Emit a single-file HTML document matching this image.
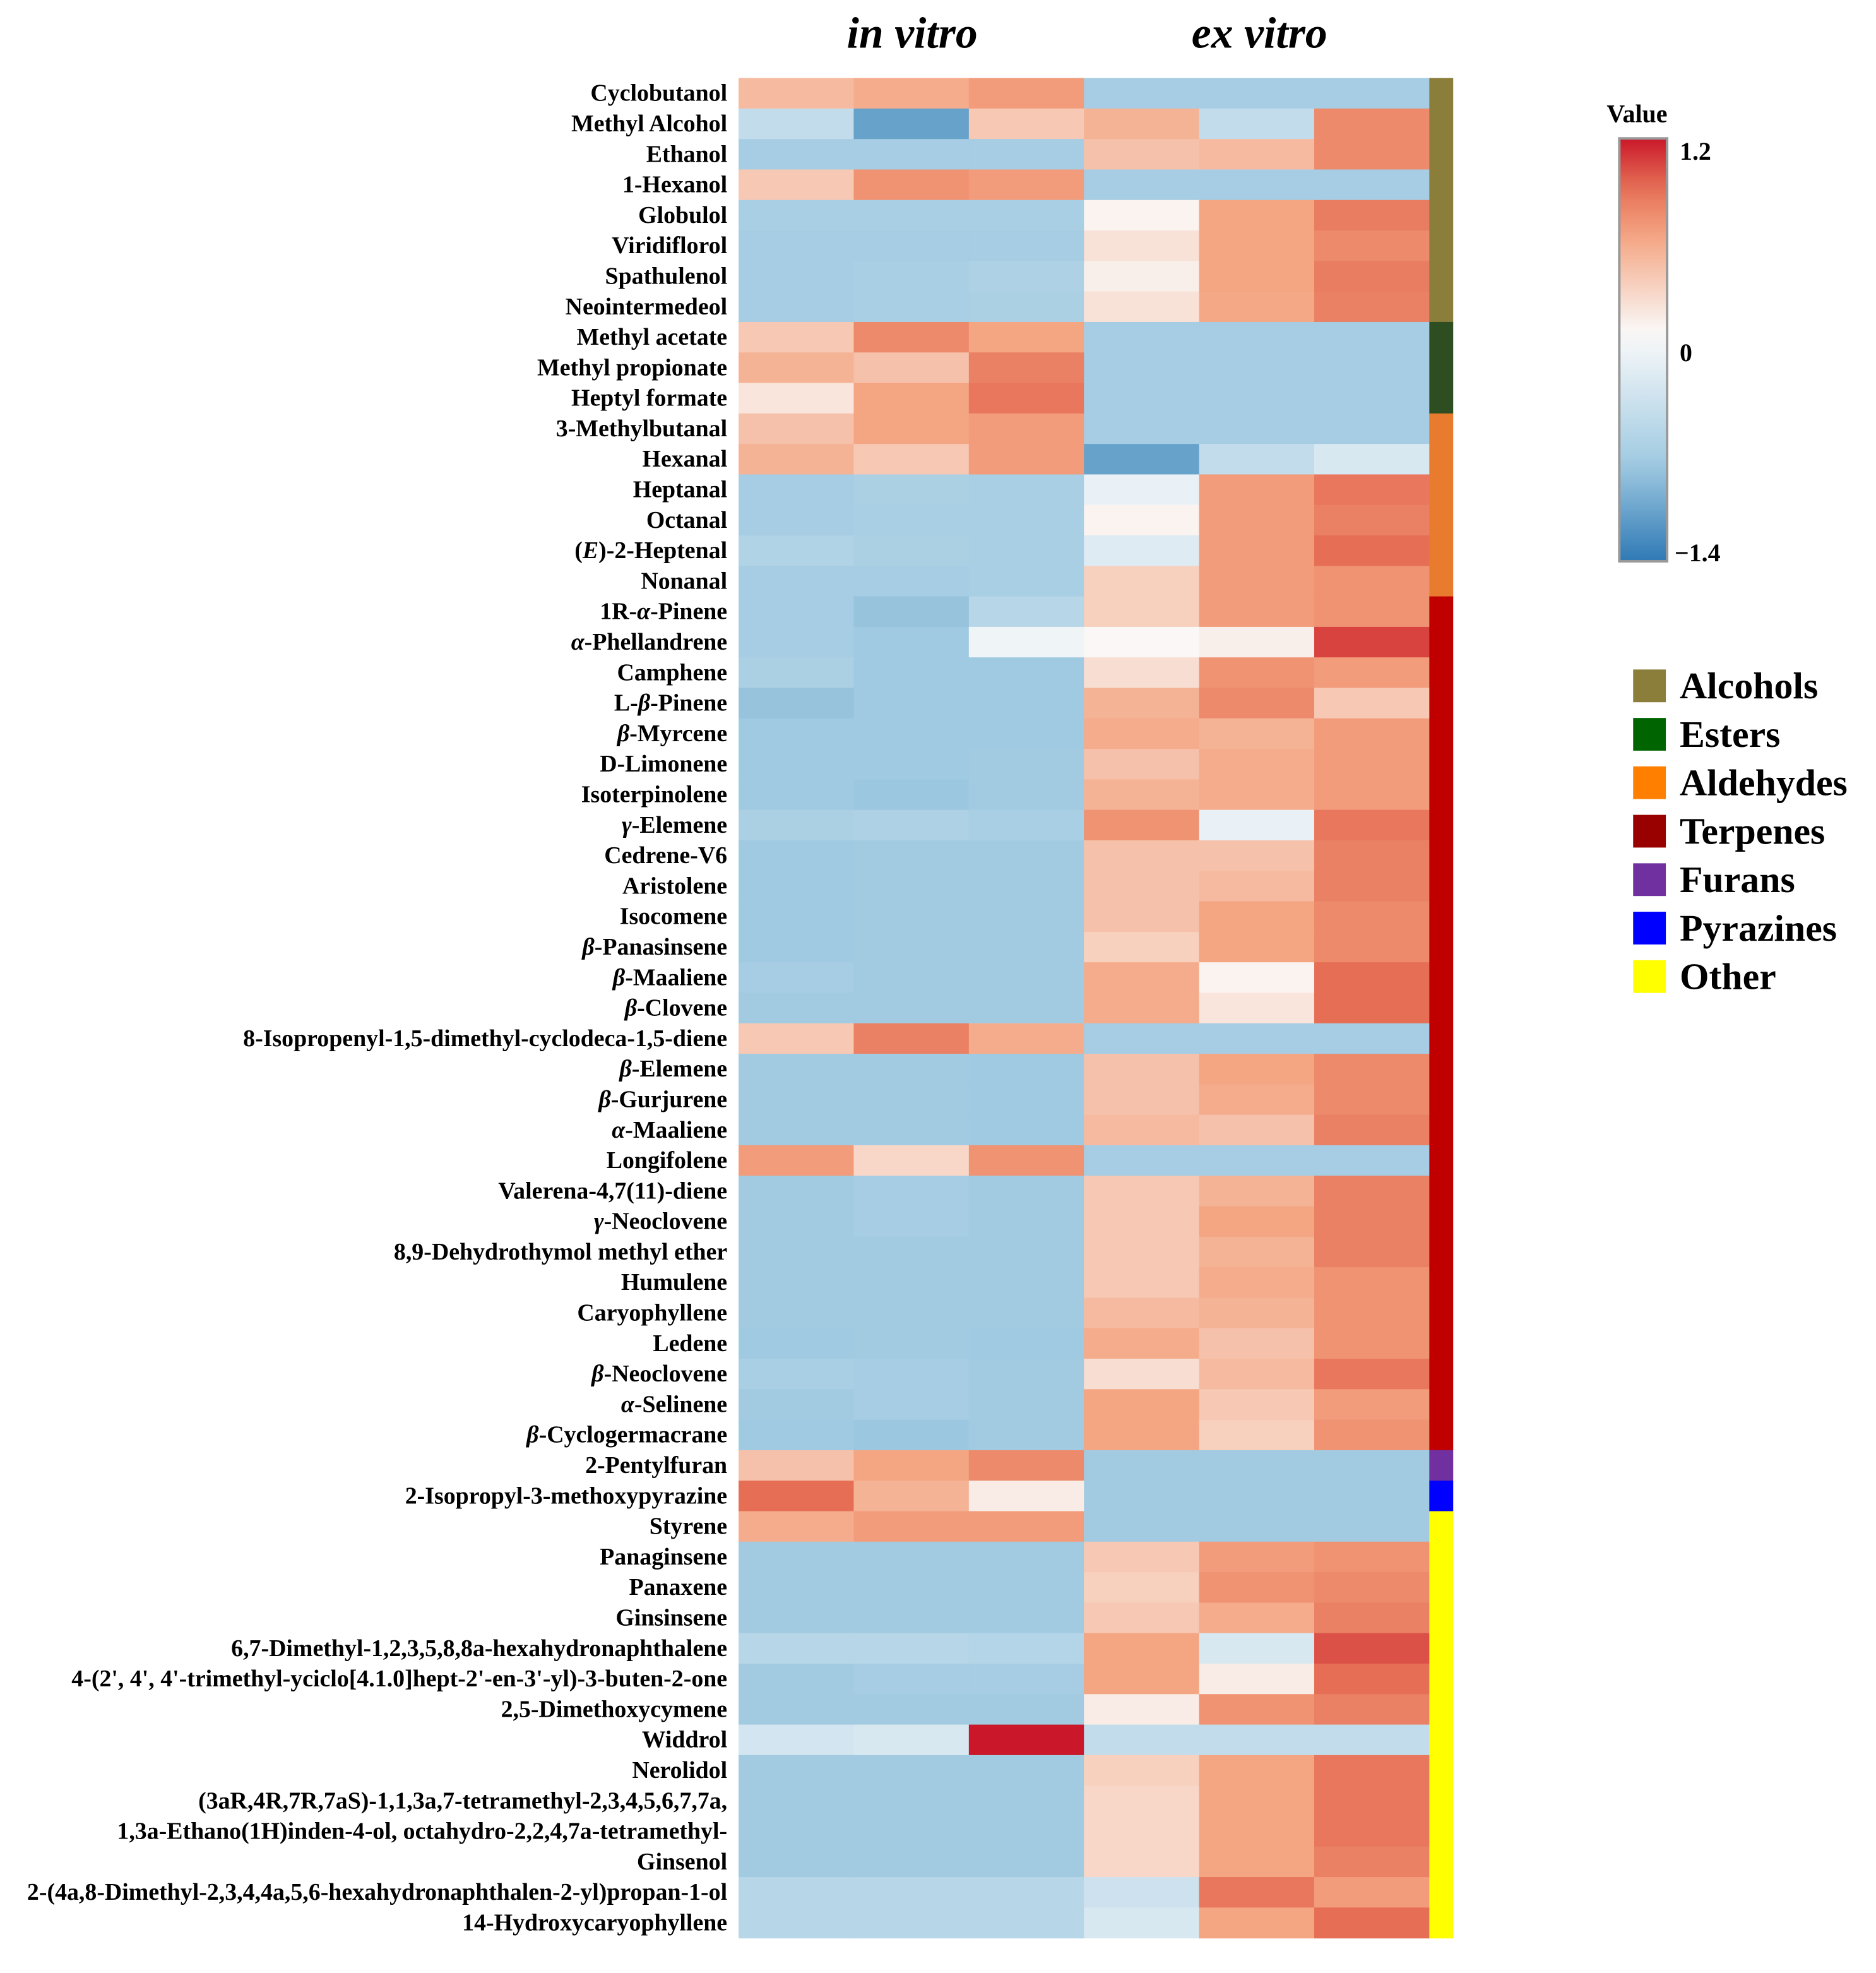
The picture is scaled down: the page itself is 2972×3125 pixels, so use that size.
<!DOCTYPE html>
<html><head><meta charset="utf-8"><style>html,body{margin:0;padding:0;background:#fff}svg{display:block}</style></head>
<body>
<svg id="chart" width="2972" height="3125" viewBox="0 0 1491 1567.8" xmlns="http://www.w3.org/2000/svg" font-family="'Liberation Serif', serif">
<text x="725" y="38" text-anchor="middle" font-size="35" font-weight="bold" font-style="italic">in vitro</text>
<text x="1001" y="38" text-anchor="middle" font-size="35" font-weight="bold" font-style="italic">ex vitro</text>
<g id="cells"></g>
<g id="labels"></g>
<g id="groups"></g>
<defs><linearGradient id="cbg" x1="0" y1="0" x2="0" y2="1"></linearGradient></defs>
<g>
<text x="1277" y="97" font-size="20" font-weight="bold">Value</text>
<rect x="1287" y="110" width="38" height="336" fill="url(#cbg)" stroke="#999" stroke-width="2"/>
<text x="1335" y="127" font-size="20" font-weight="bold">1.2</text>
<text x="1335" y="287" font-size="20" font-weight="bold">0</text>
<text x="1331" y="446" font-size="20" font-weight="bold">−1.4</text>
</g>
<g id="legend"></g>
</svg>
<script>
const labels=["Cyclobutanol","Methyl Alcohol","Ethanol","1-Hexanol","Globulol","Viridiflorol","Spathulenol","Neointermedeol","Methyl acetate","Methyl propionate","Heptyl formate","3-Methylbutanal","Hexanal","Heptanal","Octanal","(*E*)-2-Heptenal","Nonanal","1R-*α*-Pinene","*α*-Phellandrene","Camphene","L-*β*-Pinene","*β*-Myrcene","D-Limonene","Isoterpinolene","*γ*-Elemene","Cedrene-V6","Aristolene","Isocomene","*β*-Panasinsene","*β*-Maaliene","*β*-Clovene","8-Isopropenyl-1,5-dimethyl-cyclodeca-1,5-diene","*β*-Elemene","*β*-Gurjurene","*α*-Maaliene","Longifolene","Valerena-4,7(11)-diene","*γ*-Neoclovene","8,9-Dehydrothymol methyl ether","Humulene","Caryophyllene","Ledene","*β*-Neoclovene","*α*-Selinene","*β*-Cyclogermacrane","2-Pentylfuran","2-Isopropyl-3-methoxypyrazine","Styrene","Panaginsene","Panaxene","Ginsinsene","6,7-Dimethyl-1,2,3,5,8,8a-hexahydronaphthalene","4-(2', 4', 4'-trimethyl-yciclo[4.1.0]hept-2'-en-3'-yl)-3-buten-2-one","2,5-Dimethoxycymene","Widdrol","Nerolidol","(3aR,4R,7R,7aS)-1,1,3a,7-tetramethyl-2,3,4,5,6,7,7a,","1,3a-Ethano(1H)inden-4-ol, octahydro-2,2,4,7a-tetramethyl-","Ginsenol","2-(4a,8-Dimethyl-2,3,4,4a,5,6-hexahydronaphthalen-2-yl)propan-1-ol","14-Hydroxycaryophyllene"];
const values=[
[0.45,0.55,0.65,-0.75,-0.75,-0.75],[-0.5,-1.1,0.35,0.5,-0.5,0.75],[-0.75,-0.75,-0.75,0.4,0.45,0.75],[0.35,0.7,0.65,-0.75,-0.75,-0.75],
[-0.72,-0.72,-0.72,0.05,0.6,0.82],[-0.75,-0.75,-0.75,0.18,0.6,0.75],[-0.75,-0.72,-0.68,0.08,0.6,0.82],[-0.75,-0.72,-0.7,0.18,0.58,0.8],
[0.35,0.75,0.6,-0.75,-0.75,-0.75],[0.5,0.4,0.8,-0.75,-0.75,-0.75],[0.15,0.6,0.85,-0.75,-0.75,-0.75],
[0.4,0.6,0.65,-0.75,-0.75,-0.75],[0.5,0.35,0.65,-1.1,-0.5,-0.3],[-0.75,-0.7,-0.72,-0.15,0.65,0.85],[-0.75,-0.72,-0.72,0.05,0.65,0.8],[-0.65,-0.7,-0.72,-0.25,0.65,0.9],[-0.75,-0.75,-0.72,0.3,0.65,0.7],
[-0.75,-0.85,-0.6,0.3,0.65,0.7],[-0.75,-0.8,-0.1,0.02,0.08,1.05],[-0.7,-0.8,-0.8,0.2,0.7,0.65],[-0.85,-0.8,-0.8,0.5,0.75,0.35],[-0.8,-0.8,-0.8,0.55,0.5,0.65],[-0.8,-0.8,-0.78,0.4,0.55,0.65],[-0.8,-0.82,-0.78,0.5,0.55,0.65],
[-0.7,-0.68,-0.72,0.7,-0.15,0.85],[-0.8,-0.78,-0.78,0.4,0.4,0.8],[-0.8,-0.78,-0.78,0.4,0.45,0.8],[-0.8,-0.78,-0.78,0.4,0.6,0.75],[-0.8,-0.78,-0.78,0.3,0.6,0.75],[-0.75,-0.78,-0.78,0.55,0.05,0.9],[-0.78,-0.78,-0.78,0.55,0.15,0.9],
[0.35,0.8,0.55,-0.75,-0.75,-0.75],[-0.78,-0.78,-0.8,0.4,0.6,0.75],[-0.78,-0.78,-0.8,0.4,0.55,0.75],[-0.78,-0.78,-0.8,0.45,0.4,0.8],[0.65,0.25,0.7,-0.75,-0.75,-0.75],
[-0.78,-0.75,-0.78,0.35,0.5,0.8],[-0.78,-0.75,-0.78,0.35,0.6,0.8],[-0.78,-0.78,-0.78,0.35,0.5,0.8],[-0.78,-0.78,-0.78,0.35,0.55,0.7],[-0.78,-0.78,-0.78,0.45,0.5,0.7],[-0.8,-0.78,-0.8,0.55,0.4,0.7],[-0.72,-0.75,-0.78,0.2,0.45,0.85],[-0.78,-0.75,-0.78,0.6,0.35,0.65],[-0.8,-0.82,-0.78,0.6,0.3,0.7],
[0.4,0.6,0.75,-0.78,-0.78,-0.78],[0.9,0.5,0.1,-0.78,-0.78,-0.78],[0.55,0.65,0.65,-0.78,-0.78,-0.78],
[-0.78,-0.78,-0.78,0.35,0.65,0.7],[-0.78,-0.78,-0.78,0.3,0.7,0.75],[-0.78,-0.78,-0.78,0.35,0.55,0.8],[-0.6,-0.6,-0.62,0.6,-0.3,1.0],[-0.78,-0.75,-0.75,0.6,0.1,0.9],[-0.78,-0.78,-0.78,0.1,0.7,0.8],[-0.35,-0.3,1.2,-0.5,-0.5,-0.5],
[-0.78,-0.78,-0.78,0.3,0.6,0.85],[-0.78,-0.78,-0.78,0.25,0.6,0.85],[-0.78,-0.78,-0.78,0.25,0.6,0.85],[-0.78,-0.78,-0.78,0.25,0.6,0.8],[-0.6,-0.6,-0.6,-0.4,0.85,0.65],[-0.6,-0.6,-0.6,-0.3,0.6,0.9]];
const groupNames=["Alcohols","Esters","Aldehydes","Terpenes","Furans","Pyrazines","Other"];
const groupCounts=[8,3,6,28,1,1,14];
const groupBarColors=["#8b7d3a","#2e4d20","#e97b2f","#c00000","#7030a0","#0000ff","#ffff00"];
const legendColors=["#8b7d3a","#006400","#ff7f00","#990000","#7030a0","#0000ff","#ffff00"];

const NS="http://www.w3.org/2000/svg";
const X0=587,CW=91.5,Y0=62,RH=24.23;
const xs=c=>X0+c*CW, ys=r=>Y0+r*RH;
const stops=[[-1.4,[47,121,181]],[-0.8,[160,202,225]],[-0.4,[205,226,238]],[0,[250,250,250]],[0.6,[244,165,130]],[0.9,[229,110,85]],[1.2,[202,24,42]]];
function col(v){v=Math.max(-1.4,Math.min(1.2,v));for(let i=0;i<stops.length-1;i++){const[a,ca]=stops[i],[b,cb]=stops[i+1];if(v<=b){const t=(v-a)/(b-a);return"rgb("+ca.map((x,k)=>Math.round(x+(cb[k]-x)*t)).join(",")+")";}}}
const lg=document.getElementById('cbg');
for(let i=0;i<=20;i++){const v=1.2-2.6*i/20;const s=document.createElementNS(NS,'stop');s.setAttribute('offset',(i/20));s.setAttribute('stop-color',col(v));lg.appendChild(s);}
const cells=document.getElementById('cells');
values.forEach((row,r)=>row.forEach((v,c)=>{const e=document.createElementNS(NS,'rect');


e.setAttribute('x',xs(c));e.setAttribute('y',ys(r));e.setAttribute('width',CW+0.3);e.setAttribute('height',RH+0.3);e.setAttribute('fill',col(v));cells.appendChild(e);}));
const lab=document.getElementById('labels');
labels.forEach((l,r)=>{const t=document.createElementNS(NS,'text');


t.setAttribute('x',578);t.setAttribute('y',ys(r)+RH/2+6);t.setAttribute('text-anchor','end');t.setAttribute('font-size','19');t.setAttribute('font-weight','bold');
l.split('*').forEach((p,i)=>{if(!p)return;const s=document.createElementNS(NS,'tspan');s.textContent=p;if(i%2)s.setAttribute('font-style','italic');t.appendChild(s);});
lab.appendChild(t);});
const gb=document.getElementById('groups');let acc=0;
groupCounts.forEach((n,i)=>{const e=document.createElementNS(NS,'rect');


e.setAttribute('x',1136);e.setAttribute('y',ys(acc));e.setAttribute('width',19);e.setAttribute('height',n*RH+0.3);e.setAttribute('fill',groupBarColors[i]);gb.appendChild(e);acc+=n;});
const lgd=document.getElementById('legend');
groupNames.forEach((n,i)=>{const y=532+i*38.5;const e=document.createElementNS(NS,'rect');


e.setAttribute('x',1298);e.setAttribute('y',y);e.setAttribute('width',26);e.setAttribute('height',26);e.setAttribute('fill',legendColors[i]);lgd.appendChild(e);
const t=document.createElementNS(NS,'text');


t.setAttribute('x',1335);t.setAttribute('y',y+23);t.setAttribute('font-size','30');t.setAttribute('font-weight','bold');t.textContent=n;lgd.appendChild(t);});
</script>
</body></html>
